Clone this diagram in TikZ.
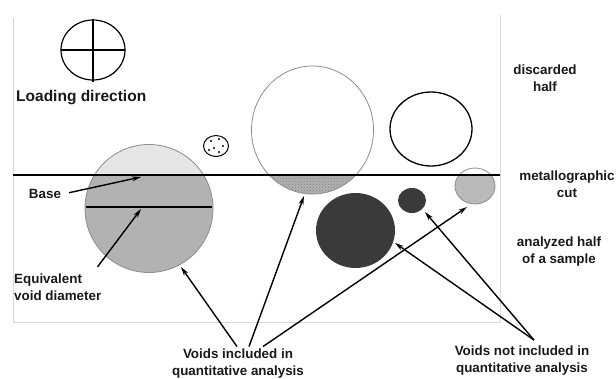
\documentclass[tikz,border=0pt]{standalone}
\usepackage{fontspec}
\setmainfont{Liberation Sans}
\usetikzlibrary{arrows.meta,patterns}
\definecolor{voidlight}{HTML}{E6E6E6}
\definecolor{voidmid}{HTML}{B2B2B2}
\definecolor{voiddark}{HTML}{3A3A3A}
\definecolor{rimgray}{HTML}{8C8C8C}
\begin{document}
\begin{tikzpicture}[x=1pt,y=-1pt,
  lbl/.style={font=\bfseries\fontsize{13.4}{17}\selectfont, text=black!90, inner sep=2pt},
  pointer/.style={line width=1.4pt, -{Stealth[length=9pt,width=5pt]}},
  rim/.style={draw=rimgray, line width=0.8pt}]
\useasboundingbox (0,0) rectangle (616,378);

% sample frame and metallographic cut
\draw[black!15, line width=0.8pt] (13,18) -- (13,322) -- (500,322) -- (500,15);

% loading direction symbol
\draw[line width=1.2pt] (93,50) ellipse (32 and 30);
\draw[line width=1.2pt] (61,50) -- (125,50);
\draw[line width=1.2pt] (93,19) -- (93,82);
\node[lbl, font=\bfseries\fontsize{15.5}{18}\selectfont, anchor=west] (loadlbl) at (14,98) {Loading direction};

% small dotted void (discarded half)
\draw[line width=1pt] (216,146) ellipse (12.5 and 10.5);
\foreach \p in {(211,141),(219,139),(223,146),(214,148),(209,150),(219,152)}
  \fill \p circle (1.2);

% large void cut near its bottom
\begin{scope}
\clip (0,175) rectangle (616,378);
\fill[voidmid] (312.5,130) ellipse (61 and 64);
\fill[pattern=crosshatch dots, pattern color=black!50] (312.5,130) ellipse (61 and 64);
\end{scope}
\draw[rim] (312.5,130) ellipse (61 and 64);

% closed void above the cut
\draw[line width=1.3pt] (431,129) ellipse (41 and 37);

% large void cut through its centre
\fill[voidlight] (149,208.5) circle (64);
\begin{scope}
\clip (0,175) rectangle (616,378);
\fill[voidmid] (149,208.5) circle (64);
\end{scope}
\draw[rim] (149,208.5) circle (64);
\draw[line width=1.3pt] (86,207) -- (212,207);

% small void cut near its top
\begin{scope}
\clip (0,175) rectangle (616,378);
\fill[voidmid!90] (475,186) ellipse (20 and 18);
\end{scope}
\draw[rim] (475,186) ellipse (20 and 18);

% voids below the cut
\fill[voiddark] (355.5,230.5) ellipse (39.5 and 37.5);
\fill[voiddark] (412,200.5) ellipse (14 and 12.5);

\draw[line width=1.3pt] (13,175) -- (500,175);

% side labels
\node[lbl, align=center] (discarded) at (545,78.5) {discarded\\half};
\node[lbl, align=center] (cutlbl) at (567,184) {metallographic\\cut};
\node[lbl, align=center] (analyzed) at (559,251.5) {analyzed half\\of a sample};

% pointer labels
\node[lbl] (base) at (45,194) {Base};
\node[lbl, align=left, anchor=west] (eqdiam) at (12,287.5) {Equivalent\\void diameter};
\node[lbl, align=center] (incl) at (238,363.5) {Voids included in\\quantitative analysis};
\node[lbl, align=center] (notincl) at (522,361) {Voids not included in\\quantitative analysis};

% arrow targets
\coordinate (basept) at (141,177);
\coordinate (diampt) at (141,209);
\coordinate (cutv1) at (181,267);
\coordinate (cutv2) at (304,196);
\coordinate (cutv3) at (467,207);
\coordinate (intv1) at (395,243);
\coordinate (intv2) at (425,212);

\draw[pointer, shorten <=6pt] (base.east) -- (basept);
\draw[pointer] ([xshift=-6pt,yshift=5pt]eqdiam.north east) -- (diampt);
\draw[pointer] ([xshift=-1pt]incl.north) -- (cutv1);
\draw[pointer] ([xshift=11pt]incl.north) -- (cutv2);
\draw[pointer] ([xshift=25pt]incl.north) -- (cutv3);
\draw[pointer] ([xshift=12pt,yshift=4pt]notincl.north) -- (intv1);
\draw[pointer] ([xshift=12pt,yshift=4pt]notincl.north) -- (intv2);
\end{tikzpicture}
\end{document}
